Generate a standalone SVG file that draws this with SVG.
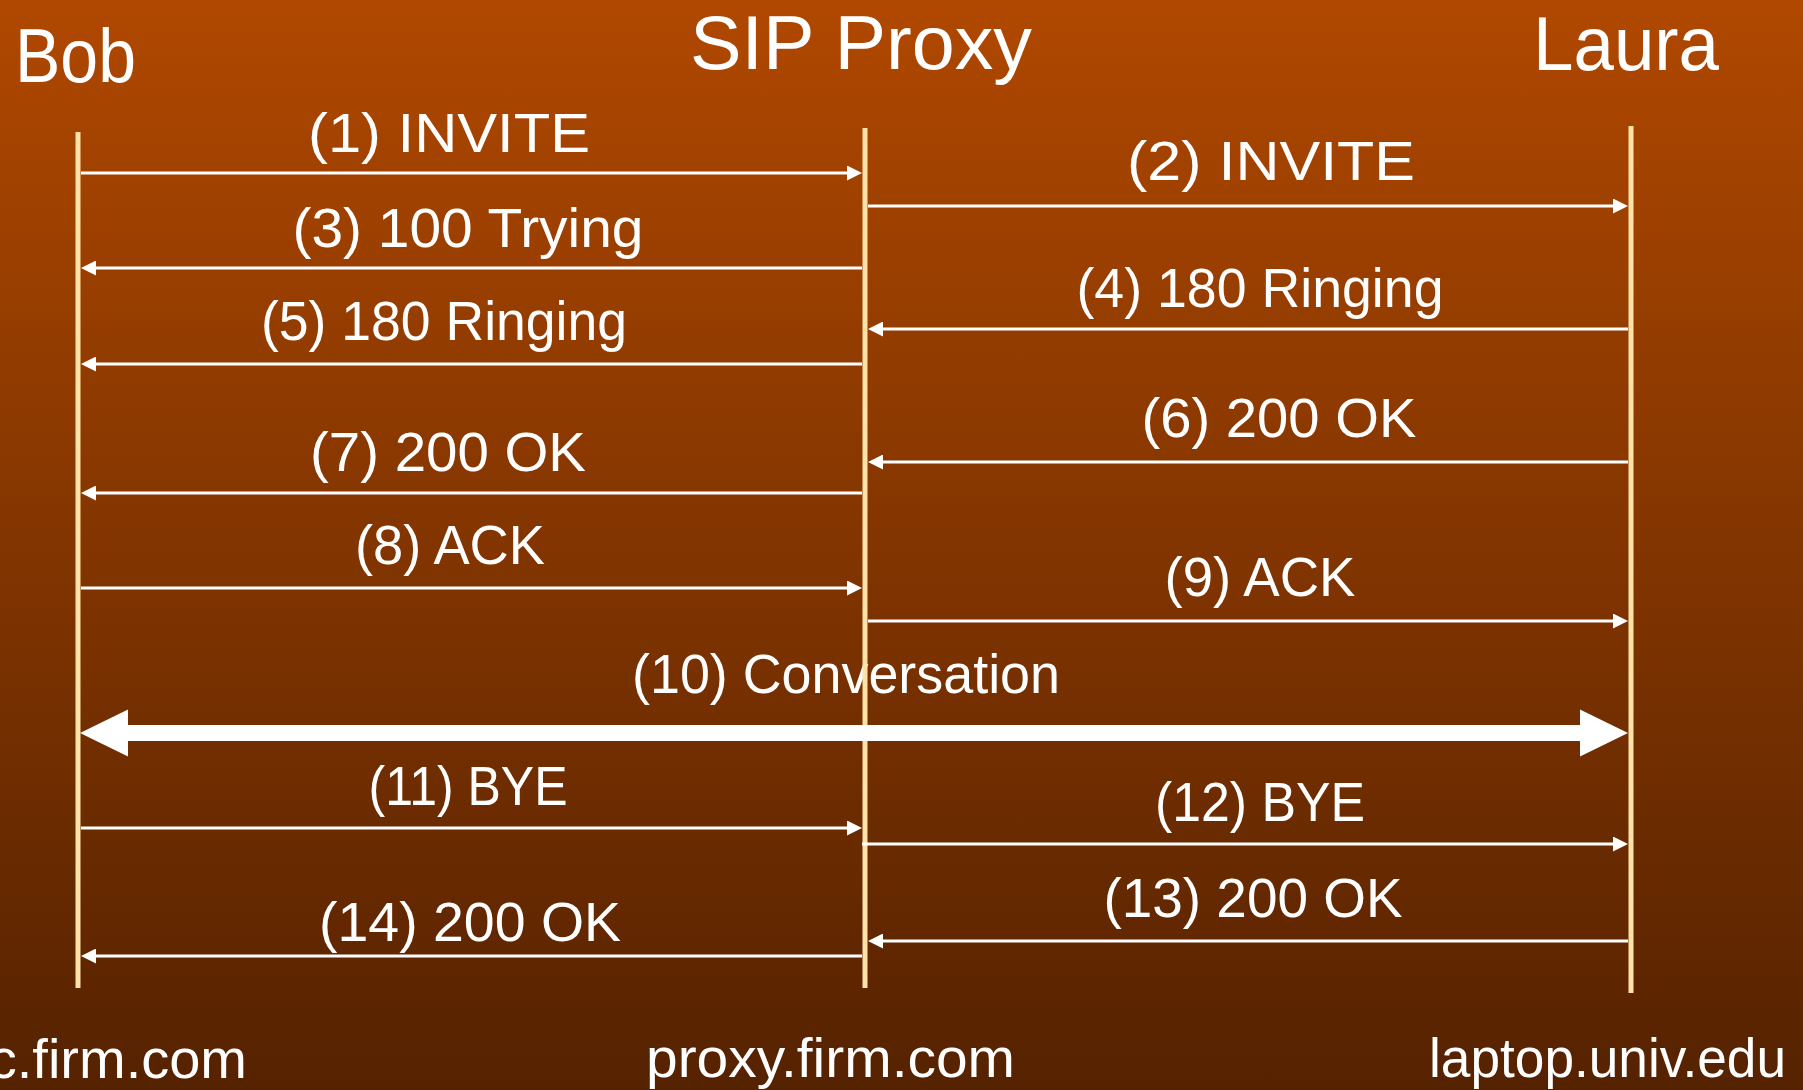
<svg xmlns="http://www.w3.org/2000/svg" width="1803" height="1090" viewBox="0 0 1803 1090">
  <defs>
    <linearGradient id="bg" x1="0" y1="0" x2="0" y2="1">
      <stop offset="0" stop-color="#B04800"/>
      <stop offset="1" stop-color="#552200"/>
    </linearGradient>
    <marker id="head" markerUnits="userSpaceOnUse" markerWidth="15" markerHeight="15" refX="10" refY="7.5" orient="auto">
      <path d="M0,0 L15,7.5 L0,15 Z" fill="#FFFFFF"/>
    </marker>
    <marker id="bighead" markerUnits="userSpaceOnUse" markerWidth="48" markerHeight="48" refX="20" refY="24" orient="auto-start-reverse">
      <path d="M0,0.5 L48,24 L0,47.5 Z" fill="#FFFFFF"/>
    </marker>
    <style>
      text { font-family: "Liberation Sans", "DejaVu Sans", sans-serif; fill: #FFFFFF; }
      .title { font-size: 76px; }
      .host { font-size: 56px; }
      .msg { font-size: 56px; text-anchor: middle; }
      .life { stroke: #FFE2A8; stroke-width: 5; }
      .arrow { stroke: #FFFFFF; stroke-width: 3; fill: none; marker-end: url(#head); }
      .talk { stroke: #FFFFFF; stroke-width: 16; fill: none; marker-start: url(#bighead); marker-end: url(#bighead); }
    </style>
  </defs>

  <rect x="0" y="0" width="1803" height="1090" fill="url(#bg)"/>

  <!-- message labels (drawn beneath the lifelines) -->
  <g id="message-labels">
    <text class="msg" x="449" y="152" textLength="282" lengthAdjust="spacingAndGlyphs">(1) INVITE</text>
    <text class="msg" x="1271" y="180" textLength="288" lengthAdjust="spacingAndGlyphs">(2) INVITE</text>
    <text class="msg" x="468" y="247" textLength="351" lengthAdjust="spacingAndGlyphs">(3) 100 Trying</text>
    <text class="msg" x="1260" y="307" textLength="367" lengthAdjust="spacingAndGlyphs">(4) 180 Ringing</text>
    <text class="msg" x="444" y="340" textLength="366" lengthAdjust="spacingAndGlyphs">(5) 180 Ringing</text>
    <text class="msg" x="1279" y="437" textLength="275" lengthAdjust="spacingAndGlyphs">(6) 200 OK</text>
    <text class="msg" x="448" y="471" textLength="276" lengthAdjust="spacingAndGlyphs">(7) 200 OK</text>
    <text class="msg" x="450" y="564" textLength="190" lengthAdjust="spacingAndGlyphs">(8) ACK</text>
    <text class="msg" x="1260" y="596" textLength="191" lengthAdjust="spacingAndGlyphs">(9) ACK</text>
    <text class="msg" x="846" y="693" textLength="428" lengthAdjust="spacingAndGlyphs">(10) Conversation</text>
    <text class="msg" x="468" y="805" textLength="199" lengthAdjust="spacingAndGlyphs">(11) BYE</text>
    <text class="msg" x="1260" y="821" textLength="210" lengthAdjust="spacingAndGlyphs">(12) BYE</text>
    <text class="msg" x="1253" y="917" textLength="299" lengthAdjust="spacingAndGlyphs">(13) 200 OK</text>
    <text class="msg" x="470" y="941" textLength="302" lengthAdjust="spacingAndGlyphs">(14) 200 OK</text>
  </g>

  <!-- participants -->
  <g id="bob">
    <text class="title" x="15" y="82" textLength="121" lengthAdjust="spacingAndGlyphs">Bob</text>
    <line class="life" x1="78" y1="132" x2="78" y2="988"/>
    <text class="host" x="247" y="1078" text-anchor="end">c.firm.com</text>
  </g>
  <g id="proxy">
    <text class="title" x="690" y="69" textLength="342" lengthAdjust="spacingAndGlyphs">SIP Proxy</text>
    <line class="life" x1="865" y1="128" x2="865" y2="988"/>
    <text class="host" x="646" y="1077" textLength="369" lengthAdjust="spacingAndGlyphs">proxy.firm.com</text>
  </g>
  <g id="laura">
    <text class="title" x="1533" y="70" textLength="186" lengthAdjust="spacingAndGlyphs">Laura</text>
    <line class="life" x1="1631" y1="126" x2="1631" y2="993"/>
    <text class="host" x="1429" y="1077" textLength="357" lengthAdjust="spacingAndGlyphs">laptop.univ.edu</text>
  </g>

  <!-- messages -->
  <g id="connectors">
    <line class="arrow" x1="81" y1="173" x2="857" y2="173"/>
    <line class="arrow" x1="868" y1="206" x2="1623" y2="206"/>
    <line class="arrow" x1="862" y1="268" x2="86" y2="268"/>
    <line class="arrow" x1="1628" y1="329" x2="873" y2="329"/>
    <line class="arrow" x1="862" y1="364" x2="86" y2="364"/>
    <line class="arrow" x1="1628" y1="462" x2="873" y2="462"/>
    <line class="arrow" x1="862" y1="493" x2="86" y2="493"/>
    <line class="arrow" x1="81" y1="588" x2="857" y2="588"/>
    <line class="arrow" x1="868" y1="621" x2="1623" y2="621"/>
    <line class="talk" x1="108" y1="733" x2="1600" y2="733"/>
    <line class="arrow" x1="81" y1="828" x2="857" y2="828"/>
    <line class="arrow" x1="862" y1="844" x2="1623" y2="844"/>
    <line class="arrow" x1="1628" y1="941" x2="873" y2="941"/>
    <line class="arrow" x1="862" y1="956" x2="86" y2="956"/>
  </g>
</svg>
